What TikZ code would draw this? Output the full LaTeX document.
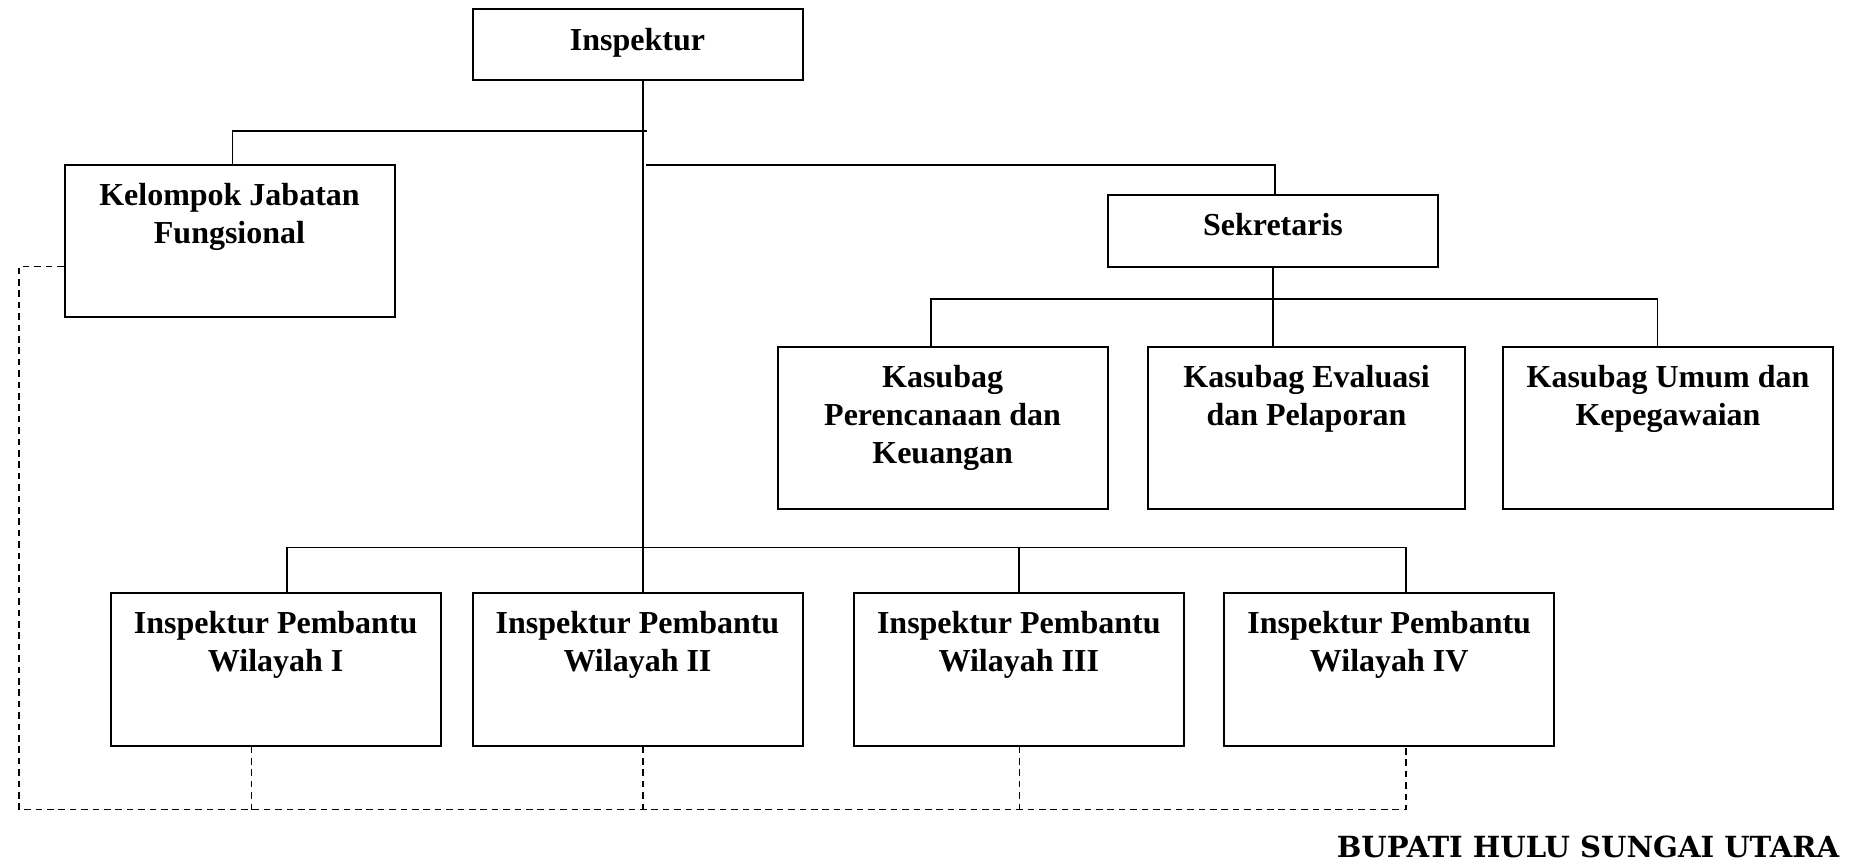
\documentclass[tikz,border=0pt]{standalone}
\usepackage{fontspec}
\setmainfont{Liberation Serif}
\newfontfamily\bupatifont{DejaVu Serif}
\usetikzlibrary{positioning}

\tikzset{
  unit/.style={draw, line width=1pt, minimum width=165pt, inner sep=0pt},
  title/.style={font=\fontsize{16}{18.8}\selectfont\bfseries, align=center, inner sep=0pt},
  link/.style={line width=0.85pt},
  dashlink/.style={line width=0.9pt, dash pattern=on 3.3pt off 2.4pt},
}

\begin{document}
\begin{tikzpicture}[x=0.5pt, y=-0.5pt]
  \useasboundingbox (0,0) rectangle (1850,862);

  % boxes
  \node[unit, minimum height=35.4pt] (ins) at (637.5,44.8) {};
  \node[unit, minimum height=76.2pt] (kjf) at (229.5,240.9) {};
  \node[unit, minimum height=36pt] (sek) at (1273,230.7) {};
  \node[unit, minimum height=81pt] (k1) at (942.6,428) {};
  \node[unit, minimum height=81pt, minimum width=158.5pt] (k2) at (1306.5,428) {};
  \node[unit, minimum height=81pt] (k3) at (1668,428) {};
  \node[unit, minimum height=76.3pt] (w1) at (275.7,669.3) {};
  \node[unit, minimum height=76.3pt] (w2) at (637.5,669.3) {};
  \node[unit, minimum height=76.3pt] (w3) at (1018.8,669.3) {};
  \node[unit, minimum height=76.3pt] (w4) at (1389.2,669.3) {};

  % texts
  \node[title, below=9.6pt of ins.north] (ins-t) {Inspektur};
  \node[title, below=9.6pt of kjf.north] (kjf-t) {Kelompok Jabatan\\Fungsional};
  \node[title, below=9.6pt of sek.north] (sek-t) {Sekretaris};
  \node[title, below=9.6pt of k1.north] (k1-t) {Kasubag\\Perencanaan dan\\Keuangan};
  \node[title, below=9.6pt of k2.north] (k2-t) {Kasubag Evaluasi\\dan Pelaporan};
  \node[title, below=9.6pt of k3.north] (k3-t) {Kasubag Umum dan\\Kepegawaian};
  \node[title, below=9.6pt of w1.north] (w1-t) {Inspektur Pembantu\\Wilayah I};
  \node[title, below=9.6pt of w2.north] (w2-t) {Inspektur Pembantu\\Wilayah II};
  \node[title, below=9.6pt of w3.north] (w3-t) {Inspektur Pembantu\\Wilayah III};
  \node[title, below=9.6pt of w4.north] (w4-t) {Inspektur Pembantu\\Wilayah IV};

  \node[anchor=base east, inner sep=0pt, font=\fontsize{14.55}{18}\bupatifont\bfseries] (bupati) at (1839.5,857) {BUPATI HULU SUNGAI UTARA};

  % lines of command
  \coordinate (trunk) at ([xshift=2.75pt]ins.south);
  \coordinate (kjfend) at (646.5,131);
  \coordinate (sekbus) at (646,165);
  \coordinate (kbus) at (0,299.3);
  \coordinate (wbus) at (0,547.5);
  \coordinate (k1in) at ([xshift=-5.85pt]k1.north);
  \coordinate (k3in) at ([xshift=-5.2pt]k3.north);
  \coordinate (w1in) at ([xshift=5.5pt]w1.north);
  \coordinate (w4in) at ([xshift=8.4pt]w4.north);

  \draw[link] (trunk) -- (trunk |- w2.north);
  \draw[link] ([xshift=1.5pt]kjf.north) |- (kjfend);
  \draw[link] (sekbus) -| ([xshift=1pt]sek.north);
  \draw[link] (sek.south) -- (sek.south |- k2.north);
  \draw[link] (k1in) |- (k3in |- kbus) -- (k3in);
  \draw[link] (w1in) |- (w4in |- wbus) -- (w4in);
  \draw[link] (w3.north) -- (w3.north |- wbus);

  % lines of coordination
  \coordinate (dcorner) at (19,809.5);
  \draw[dashlink] ([yshift=-12.8pt]kjf.west) -| (dcorner) -| ([xshift=8.3pt]w4.south);
  \foreach \w/\dx in {w1/-12.1pt, w2/2.75pt, w3/0.3pt} {
    \coordinate (d) at ([xshift=\dx]\w.south);
    \draw[dashlink] (d) -- (d |- dcorner);
  }
\end{tikzpicture}
\end{document}
